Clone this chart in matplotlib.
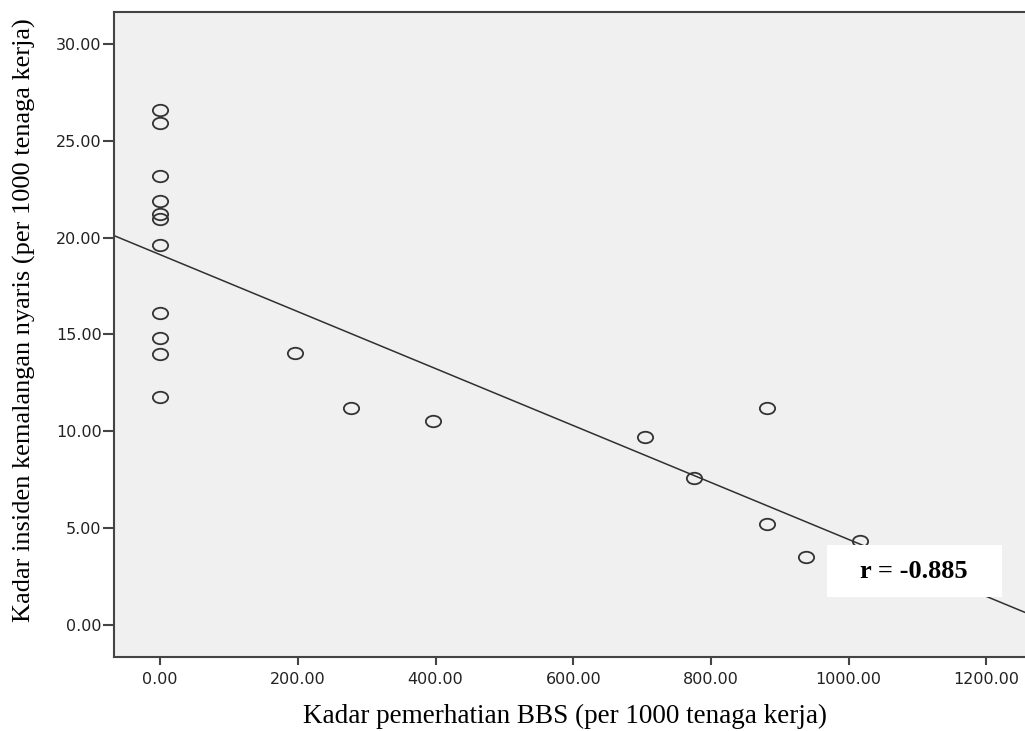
import numpy as np
import matplotlib
matplotlib.use("Agg")
import matplotlib.pyplot as plt
from matplotlib.path import Path
from matplotlib.patches import Rectangle
from matplotlib.transforms import Affine2D

# data
bbs_rate = [0, 0, 0, 0, 0, 0, 0, 0, 0, 0, 0,
            195.6, 276.6, 395.8, 703.6, 776.0, 880.7, 880.7, 937.5, 1016.0]
near_miss = [26.57, 25.89, 23.17, 21.88, 21.19, 20.95, 19.59, 16.12, 14.79, 13.98, 11.75,
             14.03, 11.20, 10.53, 9.70, 7.59, 11.20, 5.21, 3.51, 4.33]
x_ticks = [0, 200, 400, 600, 800, 1000, 1200]
y_ticks = [0, 5, 10, 15, 20, 25, 30]
r_text = "r = -0.885"

x = np.array(bbs_rate)
y = np.array(near_miss)
slope, intercept = np.polyfit(x, y, 1)

fig = plt.figure(figsize=(10.25, 7.31), dpi=100)
ax = fig.add_axes([114 / 1025, 1 - 657 / 731, (1025 - 114) / 1025, (657 - 12) / 731])
ax.set_facecolor("#f0f0f0")

xmin, xmax = -67, 1256
ymin, ymax = -1.65, 31.64
ax.set_xlim(xmin, xmax)
ax.set_ylim(ymin, ymax)

# slightly flattened open circle, like the SPSS marker
ell = Path.unit_circle().transformed(Affine2D().scale(1.0, 0.75))
ax.plot(x, y, linestyle="none", marker=ell, markersize=11, markerfacecolor="none",
        markeredgecolor="#333333", markeredgewidth=1.3, zorder=3)

xs = np.array([xmin, xmax])
ax.plot(xs, intercept + slope * xs, color="#303030", linewidth=1.1, zorder=2)

ax.set_xticks(x_ticks)
ax.set_yticks(y_ticks)
ax.set_xticklabels(["%.2f" % v for v in x_ticks])
ax.set_yticklabels(["%.2f" % v for v in y_ticks])
ax.tick_params(direction="out", width=1.5, color="#444444", labelsize=11.5,
               labelcolor="#222222")
ax.tick_params(axis="x", length=6, pad=5)
ax.tick_params(axis="y", length=8, pad=1)
for lab in ax.get_xticklabels() + ax.get_yticklabels():
    lab.set_family("DejaVu Sans")
for side in ax.spines.values():
    side.set_color("#444444")
    side.set_linewidth(1.5)
ax.spines["right"].set_visible(False)

# white box behind the correlation label
ax.add_patch(Rectangle((0.7827, 0.0930), 0.1921, 0.0806, transform=ax.transAxes,
                       facecolor="white", edgecolor="none", zorder=4))
ax.text(0.878, 0.1333, r_text, transform=ax.transAxes, ha="center", va="center",
        fontsize=19, fontweight="bold", family="Liberation Serif", color="black",
        zorder=5)

fig.text(565 / 1025, 1 - 716 / 731, "Kadar pemerhatian BBS (per 1000 tenaga kerja)",
         ha="center", va="center", fontsize=19.5, family="Liberation Serif")
fig.text(24 / 1025, 1 - 320 / 731, "Kadar insiden kemalangan nyaris (per 1000 tenaga kerja)",
         ha="center", va="center", rotation=90, fontsize=19, family="Liberation Serif")

fig.savefig("out.png", dpi=100)
